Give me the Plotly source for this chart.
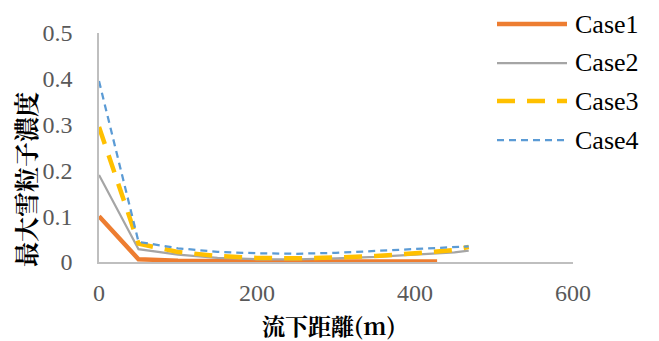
import plotly.graph_objects as go

# Distance downstream (m) and maximum snow particle concentration per case
dist_case1 = [0, 50, 100, 150, 200, 250, 300, 350, 400, 428]
conc_case1 = [0.100, 0.006, 0.003, 0.002, 0.001, 0.001, 0.001, 0.001, 0.001, 0.001]

dist_case2 = [0, 50, 100, 150, 200, 250, 300, 350, 400, 450, 468]
conc_case2 = [0.190, 0.028, 0.016, 0.009, 0.006, 0.006, 0.008, 0.011, 0.016, 0.021, 0.025]

dist_case3 = [0, 50, 100, 150, 200, 250, 300, 350, 400, 450, 468]
conc_case3 = [0.295, 0.040, 0.022, 0.013, 0.009, 0.008, 0.010, 0.013, 0.019, 0.026, 0.033]

dist_case4 = [0, 50, 100, 150, 200, 250, 300, 350, 400, 450, 468]
conc_case4 = [0.395, 0.044, 0.030, 0.022, 0.019, 0.018, 0.020, 0.024, 0.028, 0.032, 0.034]

case_names = ["Case1", "Case2", "Case3", "Case4"]
case_colors = ["#ED7D31", "#A5A5A5", "#FFC000", "#5B9BD5"]
case_widths = [4.5, 2.25, 4.5, 2.25]
case_dashes = ["solid", "solid", "18px,12px", "7px,5px"]

x_tick_values = [0, 200, 400, 600]
x_tick_labels = ["0", "200", "400", "600"]
y_tick_values = [0, 0.1, 0.2, 0.3, 0.4, 0.5]
y_tick_labels = ["0", "0.1", "0.2", "0.3", "0.4", "0.5"]

x_title = "流下距離(m)"
y_title = "最大雪粒子濃度"

SERIF = "Times New Roman"
CJK = "Noto Serif CJK JP"

series = [
    (dist_case1, conc_case1),
    (dist_case2, conc_case2),
    (dist_case3, conc_case3),
    (dist_case4, conc_case4),
]

fig = go.Figure()
for (xs, ys), name, color, width, dash in zip(series, case_names, case_colors, case_widths, case_dashes):
    fig.add_trace(go.Scatter(
        x=xs, y=ys, name=name, mode="lines",
        line=dict(color=color, width=width, dash=dash),
        showlegend=False,
    ))

# Plot-area frame in pixels
plot_left, plot_right = 99, 573
plot_top, plot_bottom = 33, 262


def px_to_paper_x(px):
    return (px - plot_left) / (plot_right - plot_left)


def px_to_paper_y(py):
    return (plot_bottom - py) / (plot_bottom - plot_top)


# Legend drawn as long line samples with labels at the upper right
legend_rows_px = [24, 63, 101, 140]
for py, name, color, width, dash in zip(legend_rows_px, case_names, case_colors, case_widths, case_dashes):
    fig.add_shape(
        type="line", xref="paper", yref="paper",
        x0=px_to_paper_x(497), x1=px_to_paper_x(567),
        y0=px_to_paper_y(py), y1=px_to_paper_y(py),
        line=dict(color=color, width=width, dash=dash),
    )
    fig.add_annotation(
        xref="paper", yref="paper",
        x=px_to_paper_x(573), y=px_to_paper_y(py),
        xanchor="left", yanchor="middle", showarrow=False,
        text=name, font=dict(family=SERIF, size=26, color="#000000"),
    )

# Axis titles
fig.add_annotation(
    xref="paper", yref="paper", x=px_to_paper_x(329), y=0,
    yshift=-(325 - plot_bottom), xanchor="center", yanchor="middle",
    showarrow=False, text=f"<b>{x_title}</b>",
    font=dict(family=CJK, size=23, color="#000000"),
)
fig.add_annotation(
    xref="paper", yref="paper", x=0, y=px_to_paper_y(180),
    xshift=-(plot_left - 25), xanchor="center", yanchor="middle",
    textangle=-90, showarrow=False, text=f"<b>{y_title}</b>",
    font=dict(family=CJK, size=25, color="#000000"),
)

fig.update_layout(
    width=659, height=341,
    margin=dict(l=plot_left, r=659 - plot_right, t=plot_top, b=341 - plot_bottom),
    paper_bgcolor="white", plot_bgcolor="white",
    font=dict(family=SERIF, size=24, color="#595959"),
)
fig.update_xaxes(
    range=[0, 600], tickvals=x_tick_values, ticktext=x_tick_labels,
    showgrid=False, zeroline=False,
    showline=True, linecolor="#BFBFBF", linewidth=1.5,
    ticks="", ticklabelstandoff=8,
    tickfont=dict(family=SERIF, size=24, color="#595959"),
)
fig.update_yaxes(
    range=[0, 0.5], tickvals=y_tick_values, ticktext=y_tick_labels,
    showgrid=False, zeroline=False,
    showline=True, linecolor="#BFBFBF", linewidth=1.5,
    ticks="", ticklabelstandoff=20,
    tickfont=dict(family=SERIF, size=24, color="#595959"),
)

fig.write_html("out.html")
